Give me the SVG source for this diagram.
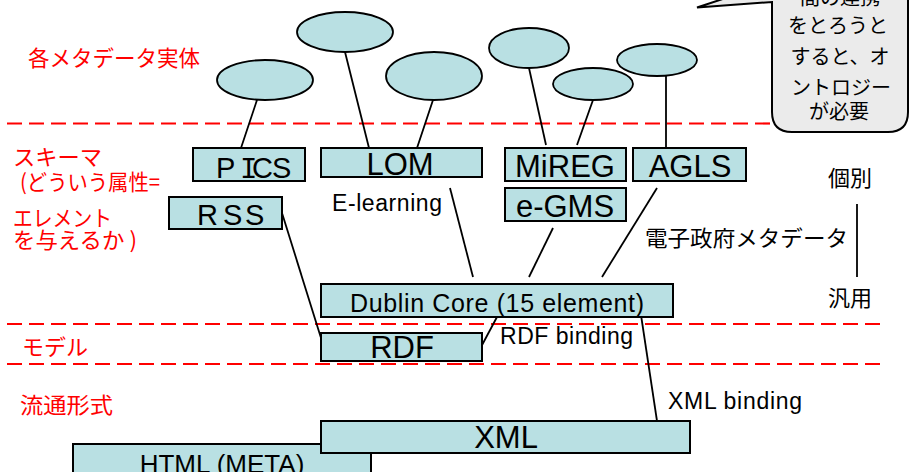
<svg xmlns="http://www.w3.org/2000/svg" width="910" height="472" viewBox="0 0 910 472">
<defs>
<style>
.sep{stroke:#ff0000;stroke-width:2.2;stroke-dasharray:15 7;fill:none}
.ell{fill:#b9e0e3;stroke:#000;stroke-width:1.8}
.box{fill:#b9e0e3;stroke:#000;stroke-width:2}
.con{stroke:#000;stroke-width:1.8;fill:none}
.lbl{font-family:"Liberation Sans",Arial,sans-serif;fill:#000}
.big{font-size:31px;text-anchor:middle}
.sm{font-size:23px}
.jp{font-family:"Noto Sans CJK JP","Liberation Sans",sans-serif;fill:#000;font-size:22px}
.red{font-family:"Noto Sans CJK JP","Liberation Sans",sans-serif;fill:#ff0000;font-size:22px}
.cal{font-family:"Noto Sans CJK JP","Liberation Sans",sans-serif;fill:#000;font-size:20px;text-anchor:middle}
</style>
</defs>
<rect width="910" height="472" fill="#fff"/>
<g id="separators">
<line class="sep" x1="7" y1="123.5" x2="775" y2="123.5"/>
<line class="sep" x1="7" y1="324" x2="885" y2="324"/>
<line class="sep" x1="7" y1="364" x2="885" y2="364"/>
</g>
<g id="layer-labels">
<text class="red" x="28" y="66" textLength="172" lengthAdjust="spacingAndGlyphs">各メタデータ実体</text>
<text class="red" x="13" y="165" textLength="89" lengthAdjust="spacingAndGlyphs">スキーマ</text>
<text class="red" x="20" y="190" textLength="140" lengthAdjust="spacingAndGlyphs">(どういう属性=</text>
<text class="red" x="13" y="226" textLength="99" lengthAdjust="spacingAndGlyphs">エレメント</text>
<text class="red" x="13" y="248" textLength="124" lengthAdjust="spacingAndGlyphs">を与えるか )</text>
<text class="red" x="22" y="355" textLength="66" lengthAdjust="spacingAndGlyphs">モデル</text>
<text class="red" x="20" y="413" textLength="93" lengthAdjust="spacingAndGlyphs">流通形式</text>
</g>
<g id="connectors">
<line class="con" x1="257" y1="100" x2="241" y2="148"/>
<line class="con" x1="345" y1="52" x2="369" y2="148"/>
<line class="con" x1="433" y1="100" x2="417" y2="148"/>
<line class="con" x1="529" y1="68" x2="546" y2="145"/>
<line class="con" x1="593" y1="100" x2="577" y2="145"/>
<line class="con" x1="666" y1="76" x2="666" y2="148"/>
<line class="con" x1="450" y1="188" x2="473" y2="277"/>
<line class="con" x1="553" y1="228" x2="529" y2="277"/>
<line class="con" x1="657" y1="188" x2="602" y2="277"/>
<line class="con" x1="282" y1="213" x2="321" y2="338"/>
<line class="con" x1="481" y1="347" x2="497" y2="317"/>
<line class="con" x1="641" y1="315" x2="657" y2="421"/>
<line class="con" x1="857" y1="204" x2="857" y2="277"/>
</g>
<g id="entity-pics"><ellipse class="ell" cx="265" cy="80" rx="48" ry="20"/></g>
<g id="entity-lom1"><ellipse class="ell" cx="345" cy="32" rx="48" ry="20"/></g>
<g id="entity-lom2"><ellipse class="ell" cx="434" cy="76" rx="48" ry="24"/></g>
<g id="entity-mireg1"><ellipse class="ell" cx="529" cy="48" rx="40" ry="20"/></g>
<g id="entity-mireg2"><ellipse class="ell" cx="593" cy="84" rx="40" ry="16"/></g>
<g id="entity-agls"><ellipse class="ell" cx="657" cy="60" rx="40" ry="16"/></g>
<g id="node-pics">
<rect class="box" x="193" y="148" width="112" height="33"/>
<text class="lbl" font-size="29" y="178"><tspan x="216">P</tspan><tspan x="240" font-family="Liberation Mono">I</tspan><tspan x="252">C</tspan><tspan x="272">S</tspan></text>
</g>
<g id="node-rss">
<rect class="box" x="169" y="197" width="113" height="32"/>
<text class="lbl" font-size="29" y="225" x="197 223 245">RSS</text>
</g>
<g id="node-lom">
<rect class="box" x="321" y="148" width="161" height="29"/>
<text class="lbl big" x="400" y="175">LOM</text>
</g>
<g id="node-mireg">
<rect class="box" x="505" y="148" width="121" height="33"/>
<text class="lbl big" x="565" y="177">MiREG</text>
</g>
<g id="node-agls">
<rect class="box" x="633" y="148" width="113" height="33"/>
<text class="lbl big" x="690" y="177">AGLS</text>
</g>
<g id="node-egms">
<rect class="box" x="505" y="188" width="121" height="33"/>
<text class="lbl big" x="565" y="217">e-GMS</text>
</g>
<g id="node-dublin-core">
<rect class="box" x="321" y="284" width="352" height="33"/>
<text class="lbl" font-size="25" x="350" y="312" textLength="294" lengthAdjust="spacing">Dublin Core (15 element)</text>
</g>
<g id="node-rdf">
<rect class="box" x="321" y="333" width="161" height="28"/>
<text class="lbl big" x="402" y="358">RDF</text>
</g>
<g id="node-html">
<rect class="box" x="73" y="444" width="298" height="40"/>
<text class="lbl" font-size="26" text-anchor="middle" x="222" y="473">HTML (META)</text>
</g>
<g id="node-xml">
<rect class="box" x="321" y="421" width="369" height="32"/>
<text class="lbl big" x="506" y="448">XML</text>
</g>
<g id="edge-labels">
<text class="lbl sm" x="332" y="211" textLength="110" lengthAdjust="spacing">E-learning</text>
<text class="lbl sm" x="500" y="344" textLength="133" lengthAdjust="spacing">RDF binding</text>
<text class="lbl sm" x="668" y="409" textLength="134" lengthAdjust="spacing">XML binding</text>
<text class="jp" x="645" y="246" textLength="203" lengthAdjust="spacingAndGlyphs">電子政府メタデータ</text>
<text class="jp" x="828" y="186">個別</text>
<text class="jp" x="828" y="306">汎用</text>
</g>
<g id="callout">
<path d="M 750 -10 L 697 7.5 L 772 2 L 772 112 Q 772 132 792 132 L 888 132 Q 908 132 908 112 L 908 -20 L 772 -20 Z" fill="#ebebeb" stroke="#000" stroke-width="2"/>
<text class="cal" x="840" y="5">間の連携</text>
<text class="cal" x="838" y="33">をとろうと</text>
<text class="cal" x="840" y="64">すると、オ</text>
<text class="cal" x="841" y="95">ントロジー</text>
<text class="cal" x="839" y="119">が必要</text>
</g>
</svg>
